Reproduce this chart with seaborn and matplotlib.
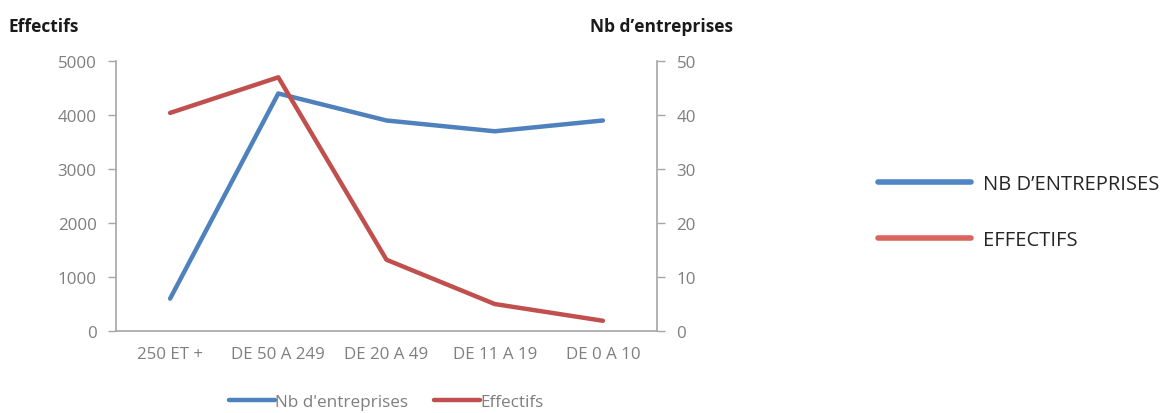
import pandas as pd
import matplotlib.pyplot as plt
import seaborn as sns
from matplotlib.lines import Line2D

sns.set_theme(style="white")
plt.rcParams["font.family"] = ["Open Sans", "DejaVu Sans"]

CATEGORIES = ["250 ET +", "DE 50 A 249", "DE 20 A 49", "DE 11 A 19", "DE 0 A 10"]
NB_ENTREPRISES = [6, 44, 39, 37, 39]
EFFECTIFS = [4040, 4700, 1320, 500, 190]
LEFT_TICKS = [0, 1000, 2000, 3000, 4000, 5000]
RIGHT_TICKS = [0, 10, 20, 30, 40, 50]

BLUE = "#4F81BD"
RED = "#C0504D"
GREY = "#7F7F7F"
AXIS = "#A6A6A6"

df = pd.DataFrame({"tranche": CATEGORIES, "nb": NB_ENTREPRISES, "eff": EFFECTIFS})

fig = plt.figure(figsize=(11.67, 4.14), dpi=100)
ax = fig.add_axes([0.0994, 0.198, 0.4636, 0.652])
ax2 = ax.twinx()

sns.lineplot(data=df, x="tranche", y="nb", ax=ax2, color=BLUE, linewidth=3.2,
             sort=False, solid_capstyle="round")
sns.lineplot(data=df, x="tranche", y="eff", ax=ax, color=RED, linewidth=3.2,
             sort=False, solid_capstyle="round")

# red drawn above blue
ax.set_zorder(ax2.get_zorder() + 1)
ax.patch.set_visible(False)

ax.set_ylim(0, 5000)
ax2.set_ylim(0, 50)
ax.set_yticks(LEFT_TICKS)
ax2.set_yticks(RIGHT_TICKS)
ax.set_xlim(-0.5, len(CATEGORIES) - 0.5)

ax.set_xticks(range(len(CATEGORIES)))
ax.set_xticklabels(CATEGORIES)
ax.set_xticks([i - 0.5 for i in range(len(CATEGORIES) + 1)], minor=True)
ax.tick_params(axis="x", which="major", length=0, pad=11, labelsize=12.2, labelcolor=GREY)
ax.tick_params(axis="x", which="minor", length=6, width=1, color=AXIS, direction="out")
ax.tick_params(axis="y", length=6, width=1, color=AXIS, direction="out",
               labelsize=12.2, labelcolor=GREY, pad=8, left=True)
ax2.tick_params(axis="y", length=6, width=1, color=AXIS, direction="out",
                labelsize=12.2, labelcolor=GREY, pad=8, right=True)

for a in (ax, ax2):
    a.set_xlabel("")
    a.set_ylabel("")
    a.grid(False)
    a.spines["top"].set_visible(False)
    for s in ("left", "right", "bottom"):
        a.spines[s].set_color(AXIS)
        a.spines[s].set_linewidth(1.2)
ax.spines["right"].set_visible(False)
ax2.spines["left"].set_visible(False)
ax2.spines["bottom"].set_visible(False)

fig.text(0.007, 0.935, "Effectifs", fontsize=12.5, fontweight="bold",
         color="#1A1A1A", ha="left", va="center")
fig.text(0.628, 0.935, "Nb d\u2019entreprises", fontsize=12.5, fontweight="bold",
         color="#1A1A1A", ha="right", va="center")

# legend under the plot
bottom_handles = [Line2D([0], [0], color=BLUE, lw=3.2),
                  Line2D([0], [0], color=RED, lw=3.2)]
fig.legend(bottom_handles, ["Nb d'entreprises", "Effectifs"],
           loc="center", bbox_to_anchor=(0.331, 0.027), ncol=2, frameon=False,
           fontsize=12.3, handlelength=2.7, handletextpad=0.0,
           columnspacing=1.5, labelcolor=GREY)

# legend on the right
right_handles = [Line2D([0], [0], color="#4F86C6", lw=4),
                 Line2D([0], [0], color="#D9655F", lw=4)]
fig.legend(right_handles, ["NB D\u2019ENTREPRISES", "EFFECTIFS"],
           loc="center left", bbox_to_anchor=(0.737, 0.485), frameon=False,
           fontsize=14.5, handlelength=4.6, handletextpad=0.6,
           labelspacing=1.8, labelcolor="#262626")

fig.savefig("out.png", dpi=100)
